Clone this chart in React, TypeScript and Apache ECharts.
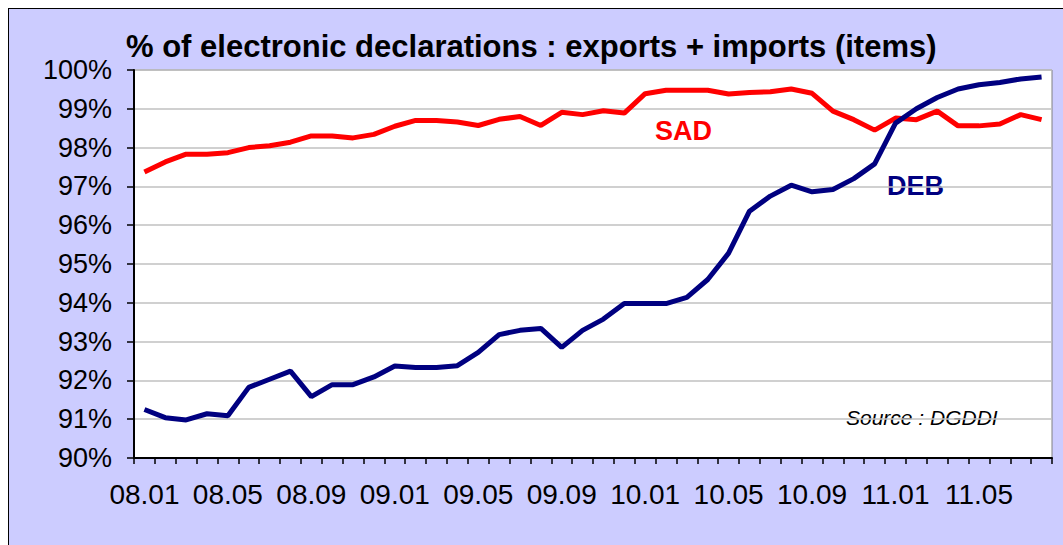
import React, { useEffect, useRef } from "react";
import * as echarts from "echarts";

const months: string[] = [
  "08.01", "08.02", "08.03", "08.04", "08.05", "08.06", "08.07", "08.08", "08.09", "08.10", "08.11", "08.12",
  "09.01", "09.02", "09.03", "09.04", "09.05", "09.06", "09.07", "09.08", "09.09", "09.10", "09.11", "09.12",
  "10.01", "10.02", "10.03", "10.04", "10.05", "10.06", "10.07", "10.08", "10.09", "10.10", "10.11", "10.12",
  "11.01", "11.02", "11.03", "11.04", "11.05", "11.06", "11.07", "11.08",
];

const sadValues: number[] = [
  97.37, 97.63, 97.83, 97.83, 97.87, 98.0, 98.05, 98.14, 98.3, 98.3, 98.25, 98.34,
  98.55, 98.7, 98.7, 98.66, 98.57, 98.73, 98.8, 98.57, 98.91, 98.85, 98.95, 98.89,
  99.39, 99.48, 99.48, 99.48, 99.38, 99.42, 99.44, 99.51, 99.4, 98.94, 98.72, 98.45,
  98.76, 98.72, 98.94, 98.56, 98.56, 98.61, 98.85, 98.72,
];

const debValues: number[] = [
  91.25, 91.04, 90.98, 91.14, 91.09, 91.82, 92.03, 92.24, 91.58, 91.89, 91.89, 92.09,
  92.37, 92.33, 92.33, 92.38, 92.72, 93.18, 93.29, 93.34, 92.85, 93.29, 93.58, 93.98,
  93.98, 93.98, 94.14, 94.6, 95.28, 96.36, 96.75, 97.03, 96.86, 96.92, 97.2, 97.58,
  98.63, 99.0, 99.29, 99.51, 99.62, 99.68, 99.77, 99.82,
];

const FONT = "'Liberation Sans', Arial, sans-serif";

export default function App() {
  const ref = useRef<HTMLDivElement>(null);
  useEffect(() => {
    if (!ref.current) return;
    const chart = echarts.init(ref.current, undefined, { renderer: "svg" });
    chart.setOption({
      animation: false,
      backgroundColor: "#CCCCFF",
      title: {
        text: "% of electronic declarations : exports + imports (items)",
        left: 112,
        top: 17,
        textStyle: { fontFamily: FONT, fontWeight: "bold", fontSize: 31, color: "#000" },
      },
      grid: {
        left: 125,
        top: 61,
        right: 11,
        bottom: 87,
        show: true,
        backgroundColor: "#FFFFFF",
        borderColor: "#808080",
        borderWidth: 1,
      },
      xAxis: {
        type: "category",
        data: months,
        boundaryGap: true,
        axisLine: { lineStyle: { color: "#000", width: 2 } },
        axisTick: { show: true, interval: 0, length: 6, lineStyle: { color: "#000", width: 1.5 } },
        axisLabel: {
          interval: 3,
          margin: 22,
          fontFamily: FONT,
          fontSize: 28,
          color: "#000",
        },
        splitLine: { show: false },
      },
      yAxis: {
        type: "value",
        min: 90,
        max: 100,
        interval: 1,
        axisLine: { show: true, lineStyle: { color: "#000", width: 2 } },
        axisTick: { show: true, length: 7, lineStyle: { color: "#000", width: 1.5 } },
        axisLabel: {
          formatter: (v: number) => `${v}%`,
          margin: 22,
          fontFamily: FONT,
          fontSize: 27,
          color: "#000",
        },
        splitLine: { show: true, lineStyle: { color: "#C0C0C0", width: 1.5 } },
      },
      series: [
        {
          name: "SAD",
          type: "line",
          data: sadValues,
          symbol: "none",
          lineStyle: { color: "#FF0000", width: 5 },
          itemStyle: { color: "#FF0000" },
        },
        {
          name: "DEB",
          type: "line",
          data: debValues,
          symbol: "none",
          lineStyle: { color: "#000080", width: 5 },
          itemStyle: { color: "#000080" },
        },
      ],
      graphic: [
        {
          type: "text",
          left: 646,
          top: 108,
          style: { text: "SAD", fill: "#FF0000", font: `bold 27px ${FONT}` },
        },
        {
          type: "text",
          left: 878,
          top: 163,
          style: { text: "DEB", fill: "#000080", font: `bold 27px ${FONT}` },
        },
        {
          type: "text",
          left: 837,
          top: 398,
          style: { text: "Source : DGDDI", fill: "#000", font: `italic 21px ${FONT}` },
        },
      ],
    });
    return () => chart.dispose();
  }, []);

  return (
    <div
      style={{
        position: "absolute",
        left: 8,
        top: 8,
        width: 1055,
        height: 537,
        boxSizing: "border-box",
        borderLeft: "1px solid #000",
        borderTop: "1px solid #000",
        background: "#CCCCFF",
      }}
    >
      <div ref={ref} style={{ width: 1054, height: 536 }} />
    </div>
  );
}
